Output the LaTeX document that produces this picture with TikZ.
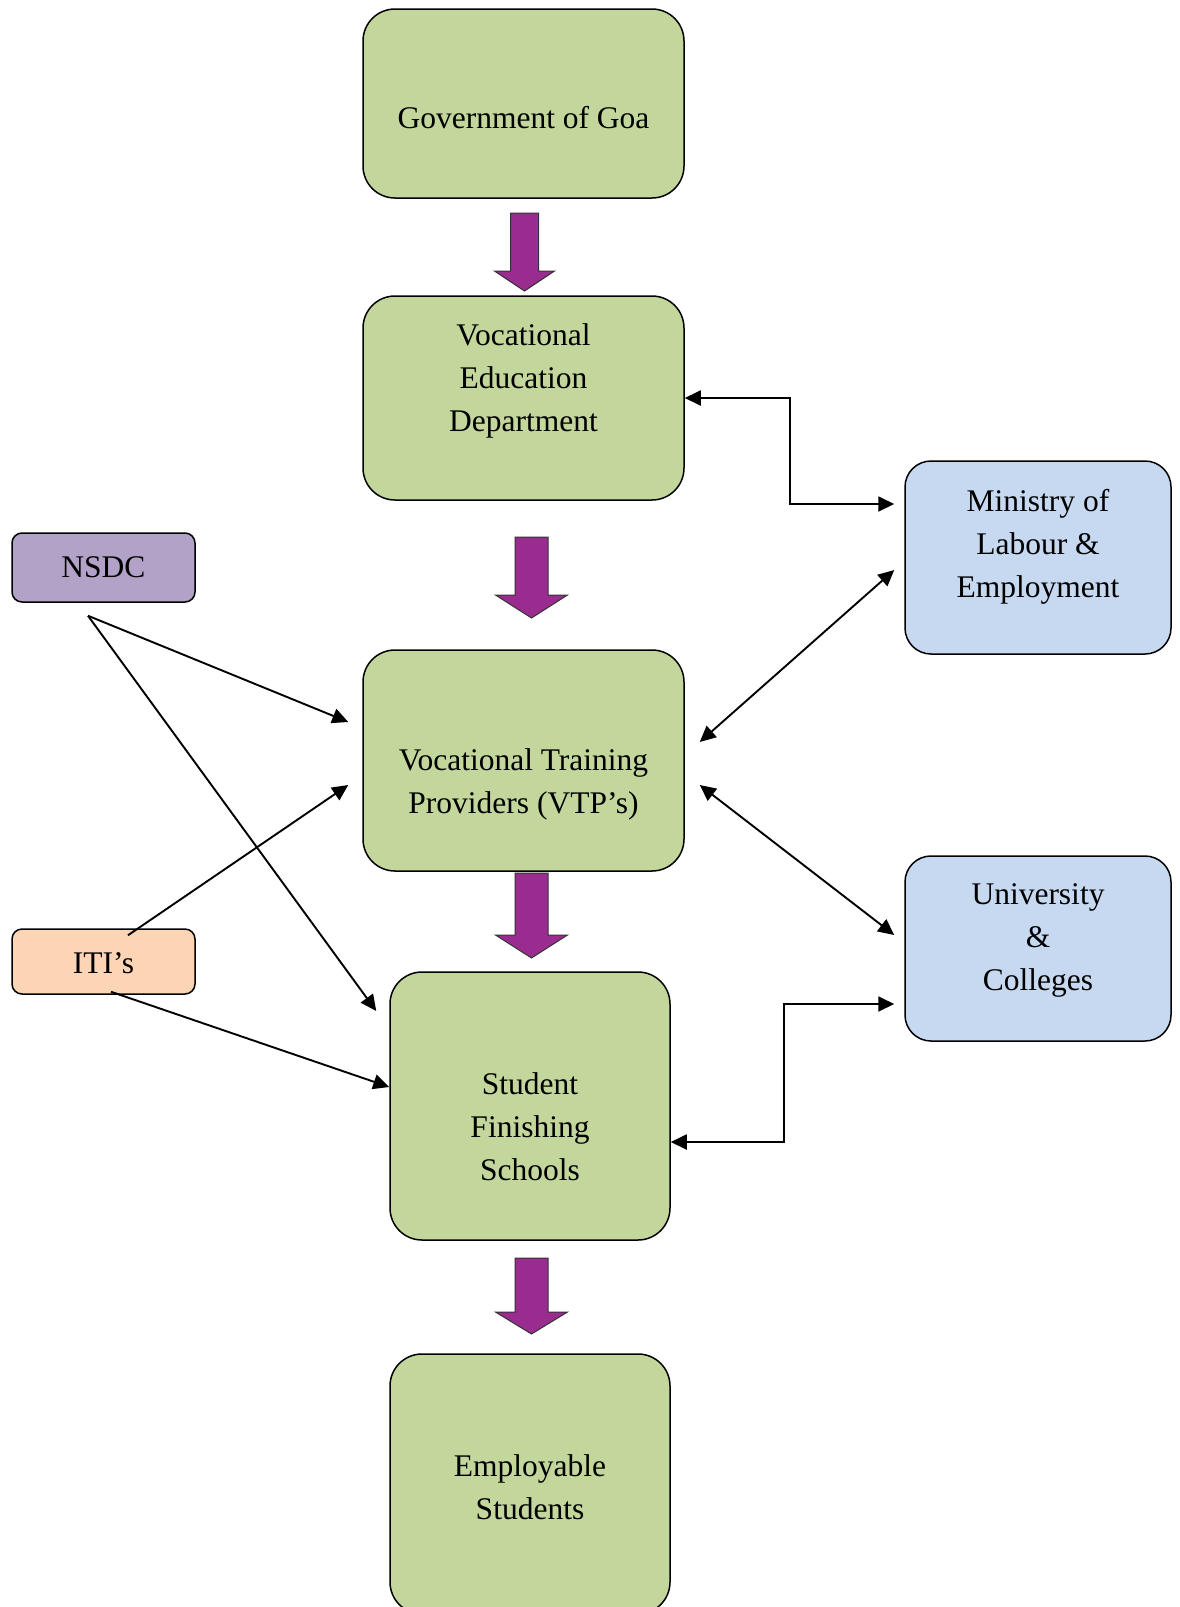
\documentclass[tikz,border=0pt]{standalone}
\usepackage{fontspec}
\setmainfont{Liberation Serif}
\usetikzlibrary{arrows.meta,positioning,calc}
\definecolor{Leaf}{HTML}{C3D69B}
\definecolor{Sky}{HTML}{C6D9F1}
\definecolor{Lilac}{HTML}{B2A2C7}
\definecolor{Peach}{HTML}{FCD5B5}
\definecolor{Plum}{HTML}{9B2C8F}
\tikzset{
 box/.style={draw=black,line width=1.5pt,fill=Leaf,rounded corners=32pt,inner sep=0pt},
 side/.style={box,fill=Sky,rounded corners=26pt},
 tag/.style={box,rounded corners=10pt},
 txt/.style={align=center,font=\fontsize{31.5}{43}\selectfont,inner sep=0pt},
 arr/.style={-{Triangle[length=16pt,width=15pt]},line width=1.9pt},
 dbl/.style={{Triangle[length=16pt,width=15pt]}-{Triangle[length=16pt,width=15pt]},line width=1.9pt},
 blockarr/.style={draw=black!80,line width=1pt,fill=Plum}
}
\begin{document}
\begin{tikzpicture}[x=1pt,y=-1pt]
\useasboundingbox (0,0) rectangle (1179,1607);
% main column
\node[box,minimum width=321,minimum height=189] (gov) at (523.5,103.5) {};
\node[box,minimum width=321,minimum height=204] (ved) at (523.5,398) {};
\node[box,minimum width=321,minimum height=221] (vtp) at (523.5,760.5) {};
\node[box,minimum width=280,minimum height=268] (sfs) at (530,1106) {};
\node[box,minimum width=280,minimum height=260] (emp) at (530,1484) {};
% side boxes
\node[tag,fill=Lilac,minimum width=183,minimum height=69] (nsdc) at (103.5,567.5) {};
\node[tag,fill=Peach,minimum width=183,minimum height=65] (iti) at (103.5,961.5) {};
\node[side,minimum width=266,minimum height=193] (mol) at (1038,557.5) {};
\node[side,minimum width=266,minimum height=185] (uni) at (1038,948.5) {};
% texts
\node[txt] (govtxt) at (523.5,118) {Government of Goa};
\node[txt] (vedtxt) at (523.5,381) {Vocational\\Education\\Department};
\node[txt] (vtptxt) at (523.5,784.5) {Vocational Training\\Providers (VTP’s)};
\node[txt] (sfstxt) at (530,1127) {Student\\Finishing\\Schools};
\node[txt] (emptxt) at (530,1487.5) {Employable\\Students};
\node[txt] (nsdctxt) at (nsdc) {NSDC};
\node[txt] (ititxt) at ($(iti)+(0,2)$) {ITI’s};
\node[txt] (moltxt) at (1038,547) {Ministry of\\Labour \&\\Employment};
\node[txt] (unitxt) at (1038,940) {University\\\&\\Colleges};
% block arrows down the column
\foreach \cx/\hw/\sw/\ya/\yb/\yc in {524.5/30/14/213/271/291,531.5/36/16.5/537/595/618,531.5/36/16.5/873/935/958,531.5/36/16.5/1258/1312/1334}
 \filldraw[blockarr] ({\cx-\sw},\ya) -- ({\cx+\sw},\ya) -- ({\cx+\sw},\yb) -- ({\cx+\hw},\yb) -- (\cx,\yc) -- ({\cx-\hw},\yb) -- ({\cx-\sw},\yb) -- cycle;
% connector ends
\coordinate (nfork) at ($(nsdc.south)+(-15.5,13)$);
\coordinate (itiup) at ($(iti.north)+(24.5,7)$);
\coordinate (itidn) at ($(iti.south)+(7.5,-3)$);
\coordinate (vtpnw) at ($(vtp.west)+(-14,-38.5)$);
\coordinate (vtpsw) at ($(vtp.west)+(-14,24.5)$);
\coordinate (vtpne) at ($(vtp.east)+(15,-18.5)$);
\coordinate (vtpse) at ($(vtp.east)+(15,24.5)$);
\coordinate (sfsnw) at ($(sfs.west)+(-13,-95)$);
\coordinate (sfsw) at ($(sfs.west)+(0,-19)$);
\coordinate (sfse) at ($(sfs.east)+(0,36)$);
\coordinate (molup) at ($(mol.west)+(-10,-53.5)$);
\coordinate (moldn) at ($(mol.west)+(-10,12.5)$);
\coordinate (uniup) at ($(uni.west)+(-10,-13.5)$);
\coordinate (unidn) at ($(uni.west)+(-10,55.5)$);
% connectors
\draw[arr] (nfork) -- (vtpnw);
\draw[arr] (nfork) -- (sfsnw);
\draw[arr] (itiup) -- (vtpsw);
\draw[arr] (itidn) -- (sfsw);
\draw[dbl] (ved.east) -- ++(105,0) |- (molup);
\draw[dbl] (moldn) -- (vtpne);
\draw[dbl] (vtpse) -- (uniup);
\draw[dbl] (sfse) -- ++(113,0) |- (unidn);
\end{tikzpicture}
\end{document}
